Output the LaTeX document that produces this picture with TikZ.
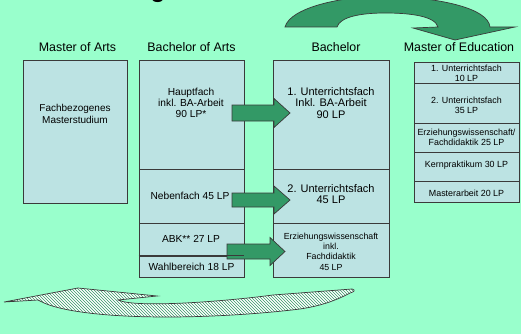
\documentclass[tikz,border=0pt]{standalone}
\usepackage{fontspec}
\setmainfont{Liberation Sans}
\usetikzlibrary{patterns}
\definecolor{bg}{HTML}{99FFCC}
\definecolor{boxc}{HTML}{BCE3E3}
\definecolor{arr}{HTML}{339966}
\definecolor{edge}{HTML}{3A3A3A}
\begin{document}
\begin{tikzpicture}[x=1pt,y=-1pt,
  seg/.style={draw=edge, fill=boxc, line width=0.8pt, inner sep=0pt, minimum width=#1},
  head/.style={font=\fontsize{12.4}{14}\selectfont, anchor=base, inner sep=0pt},
  txa/.style={font=\fontsize{10.2}{11}\selectfont, align=center, inner sep=0pt},
  txb/.style={font=\fontsize{11}{11.5}\selectfont, align=center, inner sep=0pt},
  txc/.style={font=\fontsize{8.8}{10.4}\selectfont, align=center, inner sep=0pt},
  txd/.style={font=\fontsize{8.9}{10}\selectfont, align=center, inner sep=0pt},
  blk/.style={draw=edge, fill=arr, line width=0.7pt, line join=miter}
]
\useasboundingbox (0,0) rectangle (521,334);
\fill[bg] (0,0) rectangle (521,334);

% cut-off title
\node[font=\fontsize{24}{24}\bfseries\selectfont, anchor=base, inner sep=0pt] (titleg) at (158,-2.5) {g};

% headings
\node[head] (hma) at (77.5,52) {Master of Arts};
\node[head] (hba) at (191.5,52) {Bachelor of Arts};
\node[head] (hb) at (336,52) {Bachelor};
\node[head] (hme) at (459,52) {Master of Education};

% Master of Arts
\node[seg=104, minimum height=143] (ma) at (75,131.5) {};
\node[font=\fontsize{10}{12}\selectfont, align=center, inner sep=0pt] (mat) at (75,114) {Fachbezogenes\\Masterstudium};

% Bachelor of Arts column
\node[seg=105, minimum height=109] (haupt) at (191.5,114.5) {};
\node[seg=105, minimum height=54] (neben) at (191.5,196) {};
\node[seg=105, minimum height=33] (abk) at (191.5,239.5) {};
\node[seg=105, minimum height=21] (wahl) at (191.5,266.5) {};
\node[txa] (hauptt) at (191,103) {Hauptfach\\inkl. BA-Arbeit\\90 LP*};
\node[txa] (nebent) at (190,196) {Nebenfach 45 LP};
\node[txa] (abkt) at (191,239) {ABK** 27 LP};
\node[txa] (wahlt) at (191.5,267) {Wahlbereich 18 LP};

% Bachelor column
\node[seg=116, minimum height=109] (b1) at (331,114.5) {};
\node[seg=116, minimum height=54] (b2) at (331,196) {};
\node[seg=116, minimum height=54] (b3) at (331,250) {};
\node[txb] (b1t) at (331,103) {1. Unterrichtsfach\\Inkl. BA-Arbeit\\90 LP};
\node[txb] (b2t) at (331,194) {2. Unterrichtsfach\\45 LP};
\node[txc] (b3t) at (331,251.5) {Erziehungswissenschaft\\inkl.\\Fachdidaktik\\45 LP};

% Master of Education column
\node[seg=105, minimum height=21] (m1) at (466.5,72.5) {};
\node[seg=105, minimum height=40] (m2) at (466.5,103) {};
\node[seg=105, minimum height=29] (m3) at (466.5,137.5) {};
\node[seg=105, minimum height=29] (m4) at (466.5,166.5) {};
\node[seg=105, minimum height=21] (m5) at (466.5,191.5) {};
\node[txd] (m1t) at (466.5,73) {1. Unterrichtsfach\\10 LP};
\node[txd] (m2t) at (466.5,105) {2. Unterrichtsfach\\35 LP};
\node[txd] (m3t) at (466.5,137.5) {Erziehungswissenschaft/\\Fachdidaktik 25 LP};
\node[txd] (m4t) at (466.5,165) {Kernpraktikum 30 LP};
\node[txd] (m5t) at (466.5,193) {Masterarbeit 20 LP};

% block arrows between columns
\coordinate (a1) at (232,113);
\coordinate (a2) at (232,200);
\coordinate (a3) at (227,251.5);
\draw[blk] (a1) ++(0,-8) -- ++(42,0) -- ++(0,-6.5) -- ++(16,14.5) -- ++(-16,14.5) -- ++(0,-6.5) -- ++(-42,0) -- cycle;
\draw[blk] (a2) ++(0,-7) -- ++(42,0) -- ++(0,-7) -- ++(16,14) -- ++(-16,14) -- ++(0,-7) -- ++(-42,0) -- cycle;
\draw[blk] (a3) ++(0,-7.5) -- ++(43,0) -- ++(0,-6.5) -- ++(15,14) -- ++(-15,14) -- ++(0,-6.5) -- ++(-43,0) -- cycle;
\draw[edge, line width=0.8pt] (wahl.north west) -- (wahl.north east);

% top curved arrow
\draw[blk] (285,27) .. controls (290,8) and (340,-4) .. (388,-4)
  .. controls (440,-2) and (488,8) .. (490,27)
  -- (515,27) -- (455,40) -- (413,28) -- (438,27)
  .. controls (435,16) and (410,13) .. (385,13)
  .. controls (360,13) and (340,17) .. (337,27) -- cycle;

% bottom hatched curved arrow
\draw[draw=edge, line width=0.7pt, preaction={fill=white}, pattern=north west lines, pattern color=arr]
  (4,302) -- (78,288) -- (157,296) -- (118,300)
  .. controls (135,308) and (220,302) .. (273,295) -- (352,289)
  .. controls (356,290) and (354,292) .. (350,293)
  .. controls (335,301) and (320,306) .. (300,309)
  .. controls (260,314) and (210,317) .. (167,317)
  .. controls (110,317) and (60,312) .. (40,301) -- (38,300) -- cycle;
\end{tikzpicture}
\end{document}
